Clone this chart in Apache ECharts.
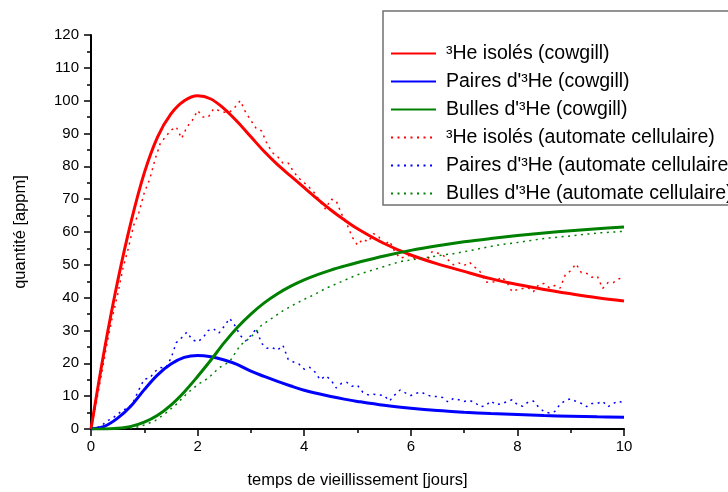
<!DOCTYPE html>
<html>
<head>
<meta charset="utf-8">
<script src="https://cdn.jsdelivr.net/npm/echarts@6/dist/echarts.min.js"></script>
<style>html,body{margin:0;padding:0;background:#fff}#c{width:728px;height:492px}</style>
</head>
<body>
<div id="c"></div>
<script>
// ---- data ----
const seriesNames = [
  '³He isolés (cowgill)',
  "Paires d'³He (cowgill)",
  "Bulles d'³He (cowgill)",
  '³He isolés (automate cellulaire)',
  "Paires d'³He (automate cellulaire)",
  "Bulles d'³He (automate cellulaire)"
];
const xTickLabels = [0, 2, 4, 6, 8, 10];
const yTickLabels = [0, 10, 20, 30, 40, 50, 60, 70, 80, 90, 100, 110, 120];

const xCowgill = [0,0.25,0.5,0.75,1,1.25,1.5,1.75,2,2.25,2.5,2.75,3,3.25,3.5,3.75,4,4.25,4.5,4.75,5,5.5,6,6.5,7,7.5,8,8.5,9,9.5,10];
const redCowgill = [0,24,45,63,78,89,96,100,101.5,100.5,97.5,93.5,89,84.5,80.5,77,73.5,70,66.7,63.7,61,56.5,53,50.3,48,45.8,44,42.5,41.2,40,39];
const blueCowgill = [0,0.8,3.3,7,12,16.5,19.8,21.8,22.4,22,21,19.6,17.6,16,14.5,13.1,11.8,10.8,9.9,9.1,8.4,7.2,6.3,5.6,5.1,4.7,4.4,4.1,3.9,3.7,3.6];
const greenCowgill = [0,0,0.2,0.8,2.1,4.2,7.3,11.3,16,21,26.3,31,35,38.4,41.2,43.5,45.4,47,48.4,49.6,50.7,52.7,54.4,55.8,57,58,58.9,59.7,60.4,61,61.5];

const xAuto = [0,0.1,0.2,0.3,0.4,0.5,0.6,0.7,0.8,0.9,1,1.1,1.2,1.3,1.4,1.5,1.6,1.7,1.8,1.9,2,2.1,2.2,2.3,2.4,2.5,2.6,2.7,2.8,2.9,3,3.1,3.2,3.3,3.4,3.5,3.6,3.7,3.8,3.9,4,4.1,4.2,4.3,4.4,4.5,4.6,4.7,4.8,4.9,5,5.1,5.2,5.3,5.4,5.5,5.6,5.7,5.8,5.9,6,6.1,6.2,6.3,6.4,6.5,6.6,6.7,6.8,6.9,7,7.1,7.2,7.3,7.4,7.5,7.6,7.7,7.8,7.9,8,8.1,8.2,8.3,8.4,8.5,8.6,8.7,8.8,8.9,9,9.1,9.2,9.3,9.4,9.5,9.6,9.7,9.8,9.9,10];
const redAuto = [0,8,17,26,34,41,49,55,62,66,72,76,82,87,89,91,92,88.5,92,94,97,95,95,97.5,97,96.5,96.5,98,100,96.5,94,91.5,90.8,87,84.2,83,81,81,78.4,76.4,75,73.5,71.8,69.2,67,70,69.5,65.5,62.5,58.5,56,57.8,57,59.5,58.5,56,57.3,54,52,52.5,53,51.5,52.5,51.2,54,53.6,53,51.5,50,50.6,49.8,50.8,49.3,47.9,44.8,44.6,45,46.3,44.8,41.8,42.5,42.8,43,41.8,44,44.3,43,43.7,42.9,47,48.2,50.3,47.6,47.4,46.2,46.5,42.8,44.6,44.6,45.7,46.3];
const blueAuto = [0,0.3,1,2.5,3.2,4.5,5.8,6.3,8.5,12,15.2,15.5,17.5,18.7,18.6,21.5,26.3,27.8,29.5,27.2,26.5,27.8,30,30.5,29.2,31.3,33.7,31.5,28.5,26.8,28.5,30.5,26.1,24.6,24.8,24,25.5,21.2,20.4,19.8,18.2,18.8,17.4,15,16.2,15,12.5,13.9,14.2,13,13.3,11.2,10.4,10.6,10.4,10.2,8.5,10.4,11.9,11,10.2,10.9,11.2,10.4,9.9,9.9,9.6,8.2,9.3,8.9,8.4,8.7,8.1,6.8,7,8.5,7.4,7.7,8.3,8.9,7.4,6.9,8.2,8.5,6.6,5.3,4.9,5.3,7.5,8.7,9.2,8.4,7.8,6.8,7.8,7.8,8.4,6.8,7.8,8.5,7.8];
const xGreenAuto = [0,0.2,0.4,0.6,0.8,1,1.2,1.4,1.6,1.8,2,2.2,2.4,2.6,2.8,3,3.2,3.4,3.6,3.8,4,4.2,4.4,4.6,4.8,5,5.2,5.4,5.6,5.8,6,6.2,6.4,6.6,6.8,7,7.2,7.4,7.6,7.8,8,8.2,8.4,8.6,8.8,9,9.2,9.4,9.6,9.8,10];
const greenAuto = [0,0,0,0.1,0.3,1.2,2.5,4.8,7.5,10.8,13.5,15.5,18.6,20.5,25.5,28,31.6,33.8,36,37.8,39.5,41,42.8,44.2,45.6,47,48,49,50,51,51.5,52,52.5,53,53.4,54,54.6,55.3,55.9,56.4,56.8,57.3,57.8,58.2,58.5,58.8,59.2,59.5,59.8,60,60.2];

// ---- build ----
const zip = (xs, ys) => xs.map((x, i) => [x, ys[i]]);
const FONT = "'Liberation Sans', Arial, sans-serif";
const RED = '#ff0000', BLUE = '#0000ff', GREEN = '#008000';
const DOT = [2, 4.5];

function solid(name, color, xs, ys) {
  return { name, type: 'line', data: zip(xs, ys), symbol: 'none', showSymbol: false,
    smooth: 0.35, lineStyle: { color, width: 3 }, itemStyle: { color } };
}
function dotted(name, color, xs, ys) {
  return { name, type: 'line', data: zip(xs, ys), symbol: 'none', showSymbol: false,
    lineStyle: { color, width: 1.5, type: DOT }, itemStyle: { color } };
}

const chart = echarts.init(document.getElementById('c'), null, { renderer: 'canvas' });
chart.setOption({
  animation: false,
  backgroundColor: '#fff',
  textStyle: { fontFamily: FONT },
  grid: { left: 91, right: 104, top: 35, bottom: 63, containLabel: false, outerBoundsMode: 'none' },
  legend: {
    orient: 'vertical', left: 383, top: 11,
    data: seriesNames,
    backgroundColor: '#fff', borderColor: '#707070', borderWidth: 1.5,
    padding: [32.5, 20, 1.5, 7],
    itemWidth: 45, itemHeight: 14, itemGap: 8,
    itemStyle: { opacity: 0, borderWidth: 0 },
    textStyle: { fontFamily: FONT, fontSize: 19.5, color: '#000', lineHeight: 20, padding: [0, 0, 0, 5] }
  },
  xAxis: {
    type: 'value', min: 0, max: 10, interval: 2,
    name: 'temps de vieillissement [jours]', nameLocation: 'middle', nameGap: 43,
    nameTextStyle: { fontFamily: FONT, fontSize: 16.5, color: '#000' },
    axisLine: { show: true, onZero: false, lineStyle: { color: '#000', width: 2 } },
    axisTick: { show: true, inside: false, length: 7, lineStyle: { color: '#000', width: 1.5 } },
    minorTick: { show: true, splitNumber: 2, length: 4, lineStyle: { color: '#000', width: 1.5 } },
    axisLabel: { fontFamily: FONT, fontSize: 15, color: '#000', margin: 10,
      formatter: v => xTickLabels.includes(v) ? String(v) : '' },
    splitLine: { show: false }
  },
  yAxis: {
    type: 'value', min: 0, max: 120, interval: 10,
    name: 'quantité [appm]', nameLocation: 'middle', nameGap: 62,
    nameTextStyle: { fontFamily: FONT, fontSize: 16.5, color: '#000' },
    axisLine: { show: true, onZero: false, lineStyle: { color: '#000', width: 2 } },
    axisTick: { show: true, inside: false, length: 7, lineStyle: { color: '#000', width: 1.5 } },
    minorTick: { show: true, splitNumber: 2, length: 4, lineStyle: { color: '#000', width: 1.5 } },
    axisLabel: { fontFamily: FONT, fontSize: 15, color: '#000', margin: 12,
      formatter: v => yTickLabels.includes(v) ? String(v) : '' },
    splitLine: { show: false }
  },
  series: [
    solid(seriesNames[0], RED, xCowgill, redCowgill),
    solid(seriesNames[1], BLUE, xCowgill, blueCowgill),
    solid(seriesNames[2], GREEN, xCowgill, greenCowgill),
    dotted(seriesNames[3], RED, xAuto, redAuto),
    dotted(seriesNames[4], BLUE, xAuto, blueAuto),
    dotted(seriesNames[5], GREEN, xGreenAuto, greenAuto)
  ]
});
</script>
</body>
</html>
